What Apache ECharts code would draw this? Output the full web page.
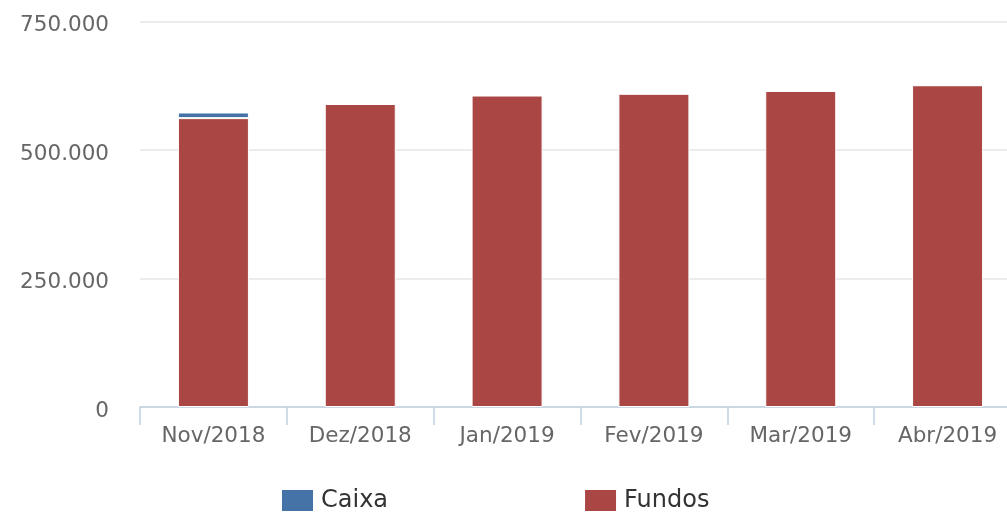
<!DOCTYPE html>
<html>
<head>
<meta charset="utf-8">
<script src="https://cdn.jsdelivr.net/npm/echarts@6/dist/echarts.min.js"></script>
<style>
html,body{margin:0;padding:0;background:#fff;}
#chart{width:1007px;height:515px;}
</style>
</head>
<body>
<div id="chart"></div>
<script>
var fontFamily='"DejaVu Sans",Verdana,sans-serif';
var months=['Nov/2018','Dez/2018','Jan/2019','Fev/2019','Mar/2019','Abr/2019'];
var caixa=[11000,0,0,0,0,0];
var fundos=[562000,589500,606000,609500,615000,626000];
var yTicks=[0,250000,500000,750000];

function fmt(v){
    return String(v).replace(/\B(?=(\d{3})+(?!\d))/g,'.');
}

var dom=document.getElementById('chart');
var chart=echarts.init(dom);
var option={
    animation:false,
    color:['#4572A7','#AA4643'],
    grid:{left:140,right:-14,top:21.5,bottom:108,containLabel:false,outerBoundsMode:'none'},
    legend:{
        bottom:-3,
        left:275,
        itemWidth:33,
        itemHeight:23,
        itemGap:195,
        icon:'rect',
        textStyle:{color:'#333',fontFamily:fontFamily,fontSize:24,padding:[0,0,0,2]},
        data:['Caixa','Fundos']
    },
    xAxis:{
        type:'category',
        data:months,
        axisLine:{lineStyle:{color:'#C0D0E0',width:1.5}},
        axisTick:{show:true,length:18,lineStyle:{color:'#C0D0E0',width:1.5}},
        axisLabel:{color:'#666',fontFamily:fontFamily,fontSize:21.5,margin:18}
    },
    yAxis:{
        type:'value',
        min:yTicks[0],
        max:yTicks[yTicks.length-1],
        interval:250000,
        axisLine:{show:false},
        axisTick:{show:false},
        splitLine:{lineStyle:{color:'#e6e6e6',width:1.5}},
        axisLabel:{color:'#666',fontFamily:fontFamily,fontSize:21.5,margin:31,
            verticalAlign:'top',lineHeight:8,
            formatter:function(v){return fmt(v);}}
    },
    series:[
        {
            name:'Fundos',
            type:'bar',
            stack:'total',
            barWidth:71,
            itemStyle:{color:'#AA4643',borderColor:'#fff',borderWidth:1},
            data:fundos,
            z:2
        },
        {
            name:'Caixa',
            type:'bar',
            stack:'total',
            barWidth:71,
            itemStyle:{color:'#4572A7',borderColor:'#fff',borderWidth:1},
            data:caixa,
            z:2
        }
    ]
};
chart.setOption(option);
</script>
</body>
</html>
